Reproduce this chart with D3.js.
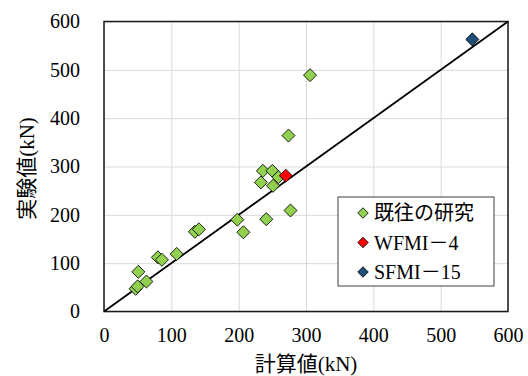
<!DOCTYPE html>
<html>
<head>
<meta charset="utf-8">
<script src="https://cdn.jsdelivr.net/npm/d3@7"></script>
<style>
	body { margin: 0; background: #fff; }
</style>
</head>
<body>
<script>
"use strict";

// 既往の研究 (計算値, 実験値)
const pastCalc = [47, 50, 51, 63, 80, 86, 108, 135, 141, 198, 207, 233, 236, 241, 250, 251, 259, 274, 277, 306];
const pastTest = [47, 52, 82, 62, 112, 107, 119, 165, 170, 190, 164, 267, 291, 191, 291, 260, 278, 364, 209, 489];
const wfmiCalc = [270];
const wfmiTest = [281];
const sfmiCalc = [547];
const sfmiTest = [563];
const ticks = [0, 100, 200, 300, 400, 500, 600];
const seriesNames = [["既往の研究", ""], ["WFMI", "－4"], ["SFMI", "－15"]];
const seriesColors = ["#92D050", "#FF0000", "#1F4E79"];

const SERIF = "Liberation Serif, Times New Roman, DejaVu Serif, serif";
const CJK = "Noto Sans CJK JP, sans-serif";

const w = 528, h = 376;
const margin = { top: 21.5, right: 20, bottom: 64.5, left: 104 };
const width = w - margin.left - margin.right;
const height = h - margin.top - margin.bottom;

const svg = d3.select("body").append("svg")
	.attr("width", w)
	.attr("height", h);

const chart = svg.append("g")
	.attr("transform", `translate(${margin.left}, ${margin.top})`);

const x = d3.scaleLinear().domain([0, 600]).range([0, width]);
const y = d3.scaleLinear().domain([0, 600]).range([height, 0]);

// grid lines
chart.append("g")
	.call(d3.axisBottom(x).tickValues(ticks).tickSize(height).tickFormat(""))
	.call(g => g.select(".domain").remove())
	.selectAll("line").attr("stroke", "#d9d9d9").attr("stroke-width", 1);
chart.append("g")
	.call(d3.axisLeft(y).tickValues(ticks).tickSize(-width).tickFormat(""))
	.call(g => g.select(".domain").remove())
	.selectAll("line").attr("stroke", "#d9d9d9").attr("stroke-width", 1);

// tick labels
const xAxis = chart.append("g")
	.attr("transform", `translate(0, ${height})`)
	.call(d3.axisBottom(x).tickValues(ticks).tickSize(0).tickPadding(16))
	.attr("font-family", SERIF)
	.attr("font-size", 20);
xAxis.select(".domain").remove();
xAxis.selectAll("text").attr("fill", "#000");

const yAxis = chart.append("g")
	.call(d3.axisLeft(y).tickValues(ticks).tickSize(0).tickPadding(24))
	.attr("font-family", SERIF)
	.attr("font-size", 20);
yAxis.select(".domain").remove();
yAxis.selectAll("text").attr("fill", "#000");

// plot border
chart.append("rect")
	.attr("width", width)
	.attr("height", height)
	.attr("fill", "none")
	.attr("stroke", "#1a1a1a")
	.attr("stroke-width", 1.5);

// 1:1 line
chart.append("line")
	.attr("x1", x(0)).attr("y1", y(0))
	.attr("x2", x(600)).attr("y2", y(600))
	.attr("stroke", "#000")
	.attr("stroke-width", 1.8);

const diamond = d3.symbol().type(d3.symbolSquare).size(85);
const series = [
	{ calc: pastCalc, test: pastTest },
	{ calc: wfmiCalc, test: wfmiTest },
	{ calc: sfmiCalc, test: sfmiTest }
];

series.forEach((s, i) => {
	chart.append("g").selectAll("path")
		.data(s.calc.map((c, j) => ({ c, t: s.test[j] })))
		.join("path")
		.attr("d", diamond)
		.attr("transform", d => `translate(${x(d.c)}, ${y(d.t)}) rotate(45)`)
		.attr("fill", seriesColors[i])
		.attr("stroke", "#000")
		.attr("stroke-width", 0.8);
});

// mixed text: kanji in CJK font, latin in serif
function mixed(sel, kanji, latin) {
	sel.append("tspan").attr("font-family", CJK).text(kanji);
	sel.append("tspan").attr("font-family", SERIF).text(latin);
}

// axis titles
svg.append("text")
	.attr("x", margin.left + width / 2)
	.attr("y", 371)
	.attr("text-anchor", "middle")
	.attr("font-size", 21)
	.call(mixed, "計算値", "(kN)");

svg.append("text")
	.attr("transform", `translate(34, ${margin.top + height / 2 + 2}) rotate(-90)`)
	.attr("text-anchor", "middle")
	.attr("font-size", 21)
	.call(mixed, "実験値", "(kN)");

// legend
const legend = svg.append("g").attr("transform", "translate(338, 197)");
legend.append("rect")
	.attr("width", 156)
	.attr("height", 89)
	.attr("fill", "#fff")
	.attr("stroke", "#404040")
	.attr("stroke-width", 1);

const legendDiamond = d3.symbol().type(d3.symbolSquare).size(55);
seriesNames.forEach((name, i) => {
	const row = legend.append("g").attr("transform", `translate(0, ${16 + i * 29.5})`);
	row.append("path")
		.attr("d", legendDiamond)
		.attr("transform", "translate(25, 0) rotate(45)")
		.attr("fill", seriesColors[i])
		.attr("stroke", "#000")
		.attr("stroke-width", 0.8);
	const t = row.append("text")
		.attr("x", 36)
		.attr("dy", "0.35em")
		.attr("font-size", 20);
	if (i === 0) {
		t.attr("font-family", CJK).text(name[0]);
	} else {
		t.append("tspan").attr("font-family", SERIF).text(name[0]);
		t.append("tspan").attr("font-family", CJK).text(name[1].slice(0, 1));
		t.append("tspan").attr("font-family", SERIF).text(name[1].slice(1));
	}
});
</script>
</body>
</html>
